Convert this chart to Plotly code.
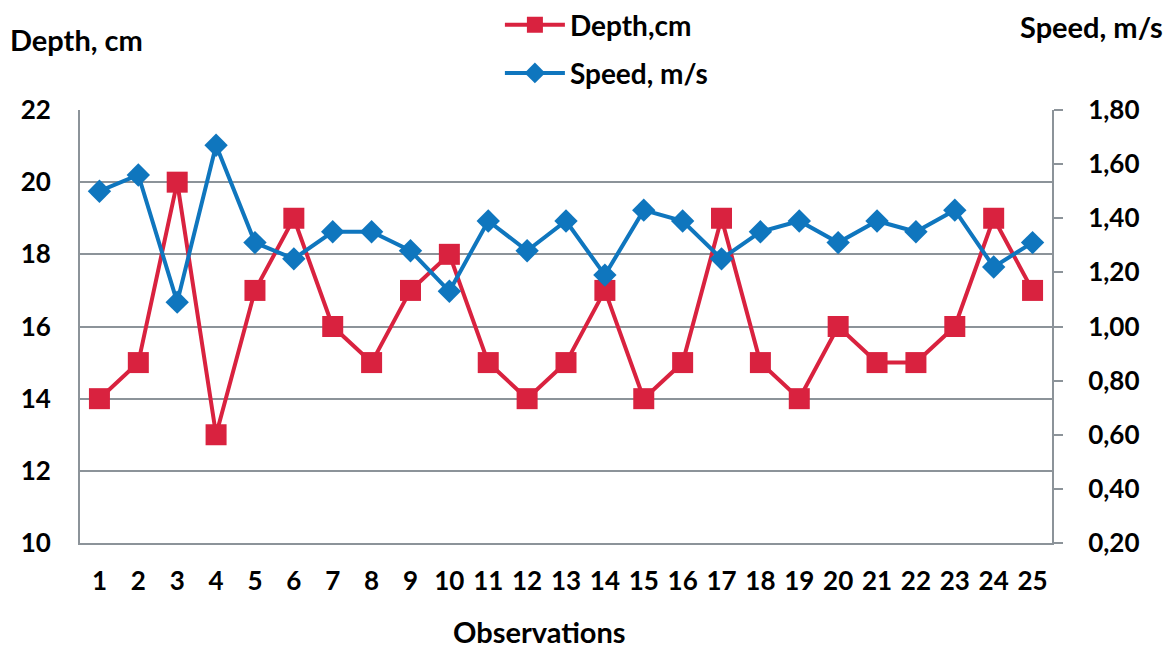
import plotly.graph_objects as go

observations = [str(i) for i in range(1, 26)]
depth_cm = [14, 15, 20, 13, 17, 19, 16, 15, 17, 18, 15, 14, 15, 17, 14, 15, 19, 15, 14, 16, 15, 15, 16, 19, 17]
speed_ms = [1.50, 1.56, 1.09, 1.67, 1.31, 1.25, 1.35, 1.35, 1.28, 1.13, 1.39, 1.28, 1.39, 1.19, 1.43,
            1.39, 1.25, 1.35, 1.39, 1.31, 1.39, 1.35, 1.43, 1.22, 1.31]

RED = "#d9223f"
BLUE = "#0f76be"
GRID = "#8c9399"
FONT = "Lato"

fig = go.Figure()
fig.add_trace(go.Scatter(
    x=observations, y=depth_cm, name="Depth,cm", mode="lines+markers",
    line=dict(color=RED, width=4),
    marker=dict(symbol="square", size=21, color=RED),
    legend="legend", showlegend=True,
))
fig.add_trace(go.Scatter(
    x=observations, y=speed_ms, name="Speed, m/s", mode="lines+markers",
    line=dict(color=BLUE, width=4),
    marker=dict(symbol="diamond", size=18, color=BLUE),
    yaxis="y2", legend="legend2", showlegend=True,
))

tickfont = dict(family=FONT, size=26, color="black", weight="bold")
legfont = dict(family=FONT, size=28, color="black", weight="bold")
titlefont = dict(family=FONT, size=29, color="black", weight="bold")

fig.update_layout(
    width=1164, height=640,
    showlegend=True,
    paper_bgcolor="white", plot_bgcolor="white",
    margin=dict(l=72, r=120, t=102, b=105, autoexpand=False),
    separators=",.",
    font=dict(family=FONT, color="black"),
    xaxis=dict(
        type="category", range=[-0.5, 24.5], tickangle=0,
        showline=True, linecolor=GRID, linewidth=2,
        ticks="", showgrid=False, tickfont=tickfont,
        ticklabelstandoff=14,
    ),
    yaxis=dict(
        range=[10, 22], dtick=2, tick0=10,
        showgrid=True, gridcolor=GRID, gridwidth=2,
        showline=True, linecolor=GRID, linewidth=2,
        ticks="", tickfont=tickfont, ticklabelstandoff=22,
        zeroline=False,
    ),
    yaxis2=dict(
        overlaying="y", side="right",
        range=[0.2, 1.8], dtick=0.2, tick0=0.2, tickformat=".2f",
        showgrid=False, showline=True, linecolor=GRID, linewidth=2,
        ticks="outside", ticklen=9, tickwidth=2, tickcolor=GRID,
        tickfont=tickfont, ticklabelstandoff=20, zeroline=False,
    ),
    legend=dict(
        x=0.432, y=1.196, xanchor="left", yanchor="middle",
        font=legfont, bgcolor="rgba(0,0,0,0)", itemwidth=60,
    ),
    legend2=dict(
        x=0.432, y=1.085, xanchor="left", yanchor="middle",
        font=legfont, bgcolor="rgba(0,0,0,0)", itemwidth=60,
    ),
    annotations=[
        dict(text="Depth, cm", xref="paper", yref="paper", x=-0.074, y=1.162,
             xanchor="left", yanchor="middle", showarrow=False, font=titlefont),
        dict(text="Speed, m/s", xref="paper", yref="paper", x=1.116, y=1.192,
             xanchor="right", yanchor="middle", showarrow=False, font=titlefont),
        dict(text="Observations", xref="paper", yref="paper", x=0.473, y=-0.205,
             xanchor="center", yanchor="middle", showarrow=False,
             font=dict(family=FONT, size=29, color="black", weight="bold")),
    ],
)

fig.write_html("out.html")
